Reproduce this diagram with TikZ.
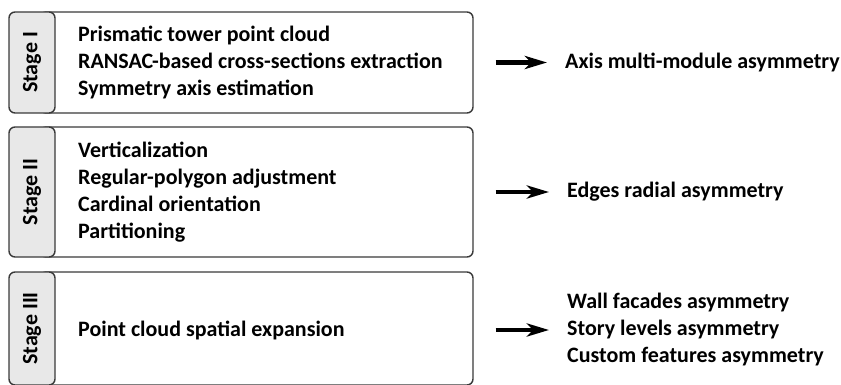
\documentclass[tikz,border=0pt]{standalone}
\usepackage{fontspec}
\setmainfont{Carlito}
\usetikzlibrary{arrows.meta}
\definecolor{framegray}{HTML}{3A3A3A}
\definecolor{tabgray}{HTML}{E8E8E8}
\tikzset{
	stagebox/.style={draw=framegray, line width=1.4pt, rounded corners=6pt, fill=white, inner sep=0pt},
	stagetab/.style={draw=framegray, line width=1.4pt, rounded corners=6pt, fill=tabgray, rotate=90, inner sep=0pt, minimum height=46pt, font=\fontsize{22}{26}\selectfont\bfseries},
	steptext/.style={anchor=west, align=left, inner sep=2pt, font=\fontsize{22}{27}\selectfont\bfseries},
	flow/.style={-{Stealth[length=22pt, width=13pt, inset=6pt]}, line width=4.5pt, shorten <=22pt, shorten >=16pt}
}
\begin{document}
\begin{tikzpicture}[x=1pt, y=-1pt]
			%%%%% START %%%%%
			\useasboundingbox (0, 0) rectangle (841, 385);
			
			% stage I
			\node[stagebox, minimum width=433, minimum height=101] (box1) at (256.5, 62.5) {};
			\node[stagetab, minimum width=101] (tab1) at (32, 62.5) {Stage I};
			\node[steptext] (in1) at (76, 62.5) {Prismatic tower point cloud\\RANSAC-based cross-sections extraction\\Symmetry axis estimation};
			
			% stage II
			\node[stagebox, minimum width=433, minimum height=130] (box2) at (256.5, 192) {};
			\node[stagetab, minimum width=130] (tab2) at (32, 192) {Stage II};
			\node[steptext] (in2) at (76, 192) {Verticalization\\Regular-polygon adjustment\\Cardinal orientation\\Partitioning};
			
			% stage III
			\node[stagebox, minimum width=433, minimum height=113] (box3) at (256.5, 328.5) {};
			\node[stagetab, minimum width=113] (tab3) at (32, 328.5) {Stage III};
			\node[steptext] (in3) at (76, 330) {Point cloud spatial expansion};
			
			% outputs
			\node[steptext] (out1) at (563, 62.5) {Axis multi-module asymmetry};
			\node[steptext] (out2) at (565, 192) {Edges radial asymmetry};
			\node[steptext] (out3) at (565, 330) {Wall facades asymmetry\\Story levels asymmetry\\Custom features asymmetry};
			
			\draw[flow] (box1.east) -- (out1.west);
			\draw[flow] (box2.east) -- (out2.west);
			\draw[flow] (box3.east |- out3.west) -- (out3.west);
			%%%%% END %%%%%
\end{tikzpicture}
\end{document}
